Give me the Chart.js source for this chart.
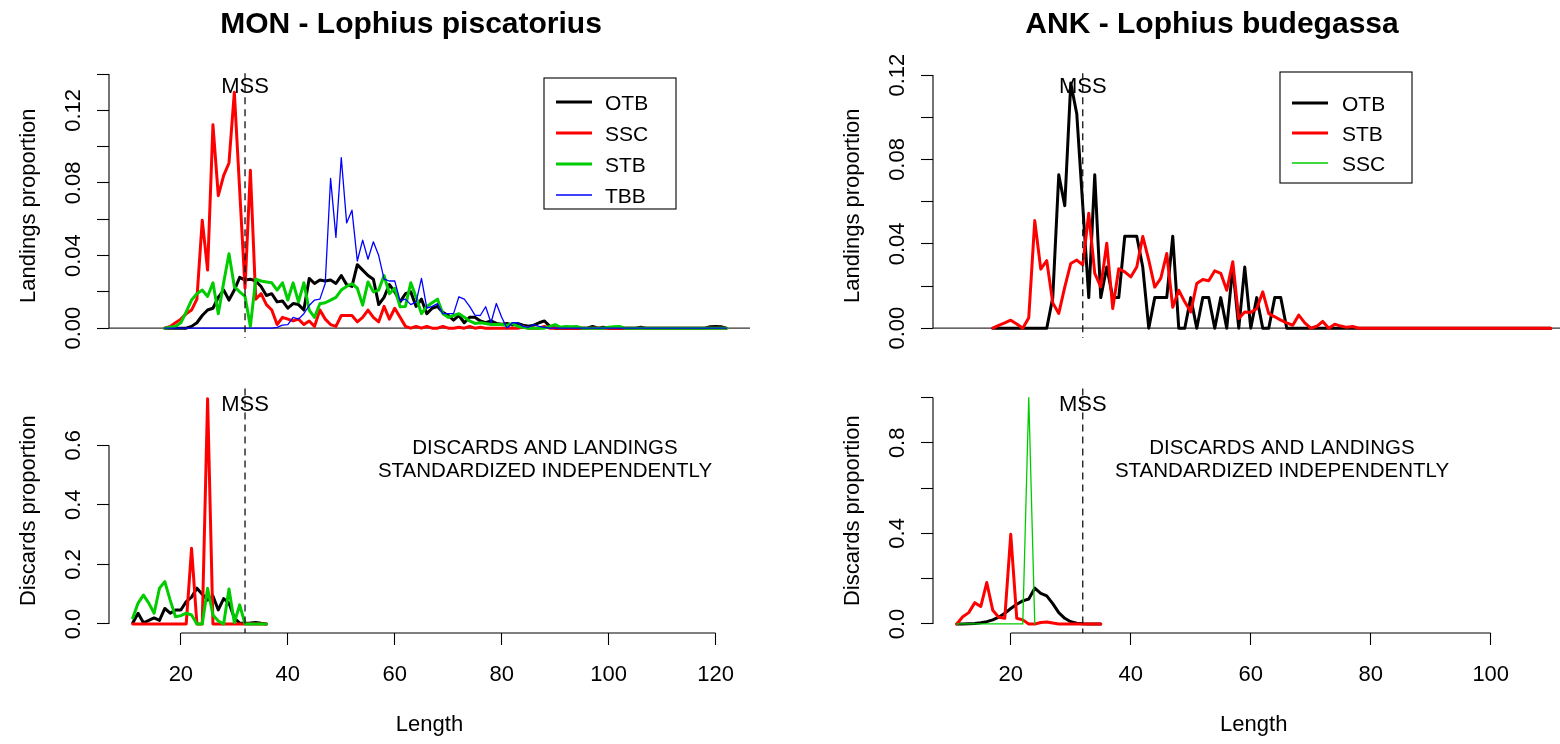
<!DOCTYPE html>
<html><head><meta charset="utf-8">
<script src="https://cdn.jsdelivr.net/npm/chart.js@4.4.1/dist/chart.umd.min.js"></script>
<style>
html,body{margin:0;padding:0;background:#fff;overflow:hidden;}
#wrap{position:relative;width:1560px;height:744px;overflow:hidden;background:#fff;}
#wrap canvas{position:absolute;left:0;top:0;width:1600px;height:744px;}
</style></head><body>
<div id="wrap">
<canvas id="cTL" width="1600" height="744"></canvas>
<canvas id="cTR" width="1600" height="744"></canvas>
<canvas id="cBL" width="1600" height="744"></canvas>
<canvas id="cBR" width="1600" height="744"></canvas>
</div>
<script>
// ---------------- DATA ----------------
const monLandLen = [17,18,19,20,21,22,23,24,25,26,27,28,29,30,31,32,33,34,35,36,37,38,39,40,41,42,43,44,45,46,47,48,49,50,51,52,53,54,55,56,57,58,59,60,61,62,63,64,65,66,67,68,69,70,71,72,73,74,75,76,77,78,79,80,81,82,83,84,85,86,87,88,89,90,91,92,93,94,95,96,97,98,99,100,101,102,103,104,105,106,107,108,109,110,111,112,113,114,115,116,117,118,119,120,121,122];
const monLandOTB = [0,0,0,0,0, 0.001,0.003,0.007,0.010,0.011, 0.017,0.021,0.0155,0.021,0.028, 0.0265,0.027,0.026,0.023,0.018, 0.019,0.0145,0.015,0.011,0.0136, 0.013,0.010,0.0274,0.0246,0.0265, 0.026,0.0265,0.0246,0.029,0.024, 0.023,0.035,0.032,0.029,0.027, 0.013,0.017,0.024,0.020,0.0145, 0.019,0.020,0.012,0.016,0.008, 0.011,0.012,0.0087,0.007,0.0044, 0.007,0.003,0.006,0.006,0.004, 0.003,0.004,0.0026,0.0022,0.0026, 0.0017,0.0026,0.0017,0.0011,0.0017, 0.003,0.004,0.001,0,0, 0,0,0,0,0, 0.001,0,0.0005,0,0, 0,0,0,0,0.0005, 0,0,0,0,0, 0,0,0,0,0, 0,0,0.0008,0.001,0.0008, 0];
const monLandSSC = [0,0.001,0.003,0.005,0.008, 0.010,0.016,0.0595,0.032,0.112, 0.073,0.084,0.091,0.130,0.076, 0.022,0.087,0.016,0.019,0.013, 0.010,0.002,0.006,0.005,0.004, 0.005,0.002,0.004,0.001,0.010, 0.005,0.002,0.001,0.007,0.007, 0.007,0.0035,0.006,0.010,0.006, 0.0035,0.012,0.005,0.011,0.006, 0.001,0,0.001,0,0.001, 0,0,0.001,0,0, 0.0005,0,0.001,0,0.0005, 0,0,0,0,0, 0,0,0.0008,0,0, 0,0.001,0,0,0, 0,0,0,0,0, 0,0,0,0,0, 0,0,0,0,0, 0,0,0,0,0, 0,0,0,0,0, 0,0,0,0,0, 0];
const monLandSTB = [0,0.0005,0.001,0.003,0.009, 0.0155,0.019,0.021,0.0175,0.025, 0.008,0.025,0.041,0.023,0.020, 0.0175,0.001,0.027,0.026,0.0255, 0.025,0.021,0.025,0.0155,0.025, 0.0145,0.025,0.010,0.006,0.0135, 0.014,0.0155,0.017,0.021,0.023, 0.0245,0.022,0.0127,0.0255,0.020, 0.021,0.029,0.019,0.022,0.0118, 0.012,0.025,0.017,0.008,0.012, 0.014,0.016,0.008,0.006,0.007, 0.008,0.006,0.004,0.0026,0.003, 0.0026,0.002,0.002,0.002,0.0015, 0.0026,0.001,0.0005,0,0, 0,0,0.001,0.002,0.0005, 0.001,0.0008,0.001,0,0, 0,0,0,0.0005,0.0008, 0.001,0,0,0,0, 0,0,0,0,0, 0,0,0,0,0, 0,0,0,0,0, 0];
const monLandTBB = [0,0,0,0,0, 0,0,0,0,0, 0,0,0,0,0, 0,0,0,0,0, 0,0.0005,0.0017,0.002,0.006, 0.005,0.008,0.0125,0.0155,0.016, 0.0246,0.0825,0.050,0.094,0.058, 0.065,0.037,0.0485,0.038,0.0476, 0.040,0.027,0.026,0.026,0.015, 0.016,0.013,0.0145,0.0274,0.011, 0.012,0.0135,0.008,0.008,0.008, 0.0173,0.016,0.012,0.0072,0.007, 0.0118,0.003,0.0136,0.006,0, 0.003,0.003,0.001,0.0005,0.002, 0.001,0.0005,0,0,0, 0,0,0,0,0, 0,0,0,0,0, 0,0,0,0,0, 0,0,0,0,0, 0,0,0,0,0, 0,0,0,0,0, 0];

const ankLandLen = [17,18,19,20,21,22,23,24,25,26,27,28,29,30,31,32,33,34,35,36,37,38,39,40,41,42,43,44,45,46,47,48,49,50,51,52,53,54,55,56,57,58,59,60,61,62,63,64,65,66,67,68,69,70,71,72,73,74,75,76,77,78,79,80,81,82,83,84,85,86,87,88,89,90,91,92,93,94,95,96,97,98,99,100,101,102,103,104,105,106,107,108,109,110];
const ankLandOTB = [0,0,0,0,0, 0,0,0,0,0, 0.0145,0.0727,0.0581,0.1162,0.1017, 0.0581,0.0145,0.0727,0.0145,0.029, 0.0145,0.0145,0.0436,0.0436,0.0436, 0.029,0,0.0145,0.0145,0.0145, 0.0436,0,0,0.0145,0, 0.0145,0.0145,0,0.0145,0, 0.029,0,0.029,0,0.0145, 0,0,0.0145,0.0145,0, 0,0,0,0,0, 0,0,0,0,0, 0,0,0,0,0, 0,0,0,0,0, 0,0,0,0,0, 0,0,0,0,0, 0,0,0,0,0, 0,0,0,0,0, 0,0,0,0];
const ankLandSTB = [0,0.0013,0.0025,0.0038,0.002, 0,0.005,0.051,0.028,0.032, 0.012,0.007,0.0195,0.0307,0.0323, 0.030,0.0545,0.026,0.0196,0.0403, 0.0093,0.0282,0.0267,0.0243,0.029, 0.0435,0.0323,0.0195,0.0236,0.0354, 0.0099,0.018,0.0125,0.0077,0.0212, 0.0231,0.0225,0.0272,0.026,0.018, 0.0315,0.0046,0.0077,0.0074,0.0093, 0.0172,0.0069,0.0054,0.0038,0.0025, 0.0014,0.0062,0.0025,0,0.0009, 0.0032,0,0.0019,0.001,0.0004, 0.0008,0,0,0,0, 0,0,0,0,0, 0,0,0,0,0, 0,0,0,0,0, 0,0,0,0,0, 0,0,0,0,0, 0,0,0,0];

const monDiscLen = [11,12,13,14,15,16,17,18,19,20,21,22,23,24,25,26,27,28,29,30,31,32,33,34,35,36];
const monDiscOTB = [0.003,0.036,0.004,0.012,0.020,0.012,0.052,0.036,0.047,0.047,0.075,0.09,0.12,0.10,0.08,0.094,0.047,0.085,0.07,0.02,0.003,0.002,0.003,0.005,0.002,0];
const monDiscSSC = [0,0,0,0,0,0,0,0,0,0,0,0.254,0,0,0.756,0,0,0,0,0,0,0,0,0,0,0];
const monDiscSTB = [0.02,0.07,0.097,0.07,0.036,0.12,0.142,0.08,0.024,0.028,0.036,0.03,0,0,0.12,0.03,0.01,0,0.117,0.005,0.064,0,0,0,0,0];

const ankDiscLen = [11,12,13,14,15,16,17,18,19,20,21,22,23,24,25,26,27,28,29,30,31,32,33,34,35];
const ankDiscOTB = [0,0,0.001,0.002,0.005,0.01,0.018,0.03,0.047,0.068,0.087,0.102,0.11,0.158,0.135,0.124,0.09,0.05,0.025,0.01,0.003,0.001,0,0,0];
const ankDiscSTB = [0,0.032,0.05,0.094,0.077,0.183,0.06,0.03,0.025,0.396,0.025,0.018,0,0,0.006,0.009,0.004,0,0,0,0,0,0,0,0];
const ankDiscSSCLen = [11,12,13,14,15,16,17,18,19,20,21,22,23,24];
const ankDiscSSC = [0,0,0,0,0,0,0,0,0,0,0,0,1.0,0];

const mss = 32;
const monGears = ['OTB','SSC','STB','TBB'];
const ankGears = ['OTB','STB','SSC'];

const xTicksMon = [20,40,60,80,100,120];
const xLabelsMon = ['20','40','60','80','100','120'];
const xTicksAnk = [20,40,60,80,100];
const xLabelsAnk = ['20','40','60','80','100'];
const yTicksTL = [0,0.02,0.04,0.06,0.08,0.10,0.12,0.14];
const yLabelsTL = ['0.00','','0.04','','0.08','','0.12',''];
const yTicksTR = [0,0.02,0.04,0.06,0.08,0.10,0.12];
const yLabelsTR = ['0.00','','0.04','','0.08','','0.12'];
const yTicksBL = [0,0.2,0.4,0.6];
const yLabelsBL = ['0.0','0.2','0.4','0.6'];
const yTicksBR = [0,0.2,0.4,0.6,0.8,1.0];
const yLabelsBR = ['0.0','','0.4','','0.8',''];

// ---------------- STYLE ----------------
const FONT = '"Liberation Sans", Arial, Helvetica, sans-serif';
Chart.defaults.font.family = FONT;
Chart.defaults.color = '#000';
const COL = {OTB:'#000000', SSC:'#ff0000', STB:'#00cd00', TBB:'#0000ff'};
const COLANK = {OTB:'#000000', STB:'#ff0000', SSC:'#00cd00'};
const THICK = 3, THIN = 1.3;

function pts(len, vals){ return len.map((L,i)=>({x:L, y:vals[i]})); }
function ds(label, len, vals, color, w, order){
  return {label, data: pts(len, vals), borderColor: color, backgroundColor: color, borderWidth: w,
          pointRadius: 0, tension: 0, fill: false, order, borderJoinStyle:'round', borderCapStyle:'round'};
}

function decoPlugin(d){
  return {
    id: 'rdeco' + d.key,
    beforeDatasetsDraw(chart){
      const {ctx, chartArea:a, scales:{y}} = chart;
      if (d.hline0){
        const py = y.getPixelForValue(0);
        ctx.save(); ctx.strokeStyle = '#333'; ctx.lineWidth = 1.2;
        ctx.beginPath(); ctx.moveTo(a.left, py); ctx.lineTo(a.right, py); ctx.stroke(); ctx.restore();
      }
    },
    afterDraw(chart){
      const {ctx, chartArea:a, scales:{x, y}} = chart;
      ctx.save();
      ctx.strokeStyle = '#000'; ctx.lineWidth = 1.1;
      const yt = y.ticks;
      ctx.beginPath();
      ctx.moveTo(a.left, y.getPixelForValue(yt[0].value));
      ctx.lineTo(a.left, y.getPixelForValue(yt[yt.length-1].value));
      ctx.stroke();
      if (d.xAxis){
        const xt = x.ticks;
        ctx.beginPath();
        ctx.moveTo(x.getPixelForValue(xt[0].value), a.bottom);
        ctx.lineTo(x.getPixelForValue(xt[xt.length-1].value), a.bottom);
        ctx.stroke();
      }
      // MSS label + dashed line
      ctx.fillStyle = '#000';
      ctx.font = '22px ' + FONT; ctx.textAlign = 'center'; ctx.textBaseline = 'alphabetic';
      const mx = x.getPixelForValue(mss);
      ctx.fillText('MSS', mx, d.mssBase);
      ctx.setLineDash([7,5]); ctx.lineWidth = 1.3; ctx.strokeStyle = '#111';
      ctx.beginPath(); ctx.moveTo(mx, a.top); ctx.lineTo(mx, a.bottom); ctx.stroke();
      ctx.setLineDash([]);
      // main title
      if (d.title){
        ctx.font = 'bold 30px ' + FONT; ctx.textAlign = 'center';
        ctx.fillText(d.title.text, d.title.x, d.title.y);
      }
      // annotation
      if (d.note){
        ctx.font = '20.5px ' + FONT; ctx.textAlign = 'center';
        d.note.lines.forEach((t,i)=>ctx.fillText(t, d.note.x, d.note.y[i]));
      }
      // legend
      if (d.legend){
        const L = d.legend;
        ctx.strokeStyle = '#000'; ctx.lineWidth = 1.1;
        ctx.strokeRect(L.x0, L.y0, L.x1 - L.x0, L.y1 - L.y0);
        ctx.font = '21px ' + FONT; ctx.textAlign = 'left';
        L.items.forEach((it,i)=>{
          const ry = L.rows[i];
          ctx.strokeStyle = it.color; ctx.lineWidth = it.w; ctx.lineCap = 'butt';
          ctx.beginPath(); ctx.moveTo(L.lx0, ry); ctx.lineTo(L.lx1, ry); ctx.stroke();
          ctx.fillStyle = '#000';
          ctx.fillText(it.label, L.tx, ry + 7.5);
        });
      }
      ctx.restore();
    }
  };
}

function makeChart(id, c){
  const W = 1600, H = 744, yW = 100, xH = 111;
  const a = c.area;
  return new Chart(document.getElementById(id), {
    type: 'line',
    data: {datasets: c.datasets},
    options: {
      responsive: false, animation: false, devicePixelRatio: 1, events: [],
      layout: {padding: {left: a.left - yW, right: W - a.right, top: a.top,
                         bottom: c.showX ? H - a.bottom - xH : H - a.bottom}},
      plugins: {legend: {display: false}, tooltip: {enabled: false}, title: {display: false}},
      scales: {
        x: {type: 'linear', min: c.xMin, max: c.xMax, display: c.showX,
            afterBuildTicks: s => { s.ticks = c.xTicks.map(v => ({value: v})); },
            afterFit: s => { s.height = c.showX ? xH : 0; },
            ticks: {autoSkip: false, minRotation: 0, maxRotation: 0, padding: 16.8,
                    color: '#000', font: {size: 22}, callback: (v, i) => c.xLabels[i]},
            grid: {display: true, drawOnChartArea: false, drawTicks: true, tickLength: 12,
                   tickColor: '#000', tickWidth: 1.1},
            border: {display: false},
            title: {display: true, text: 'Length', color: '#000', font: {size: 22},
                    padding: {top: 0, bottom: 5.8}}},
        y: {type: 'linear', min: c.yMin, max: c.yMax,
            afterBuildTicks: s => { s.ticks = c.yTicks.map(v => ({value: v})); },
            afterFit: s => { s.width = yW; },
            ticks: {autoSkip: false, minRotation: 90, maxRotation: 90, crossAlign: 'center',
                    padding: c.yPad, color: '#000', font: {size: 22},
                    callback: (v, i) => c.yLabels[i]},
            grid: {display: true, drawOnChartArea: false, drawTicks: true, tickLength: 12,
                   tickColor: '#000', tickWidth: 1.1},
            border: {display: false},
            title: {display: true, text: c.yTitle, color: '#000', font: {size: 22},
                    padding: {top: 6.8, bottom: 0}}}
      }
    },
    plugins: [decoPlugin(c.deco)]
  });
}

// ---------------- CHARTS ----------------
makeChart('cTL', {
  area: {left: 109, right: 750, top: 73.3, bottom: 338},
  xMin: 6.56, xMax: 126.44, yMin: -0.0054, yMax: 0.1404, showX: false,
  xTicks: xTicksMon, xLabels: xLabelsMon, yTicks: yTicksTL, yLabels: yLabelsTL, yPad: 1.6,
  yTitle: 'Landings proportion',
  datasets: [
    ds(monGears[0], monLandLen, monLandOTB, COL.OTB, THICK, 4),
    ds(monGears[1], monLandLen, monLandSSC, COL.SSC, THICK, 3),
    ds(monGears[2], monLandLen, monLandSTB, COL.STB, THICK, 2),
    ds(monGears[3], monLandLen, monLandTBB, COL.TBB, THIN, 1)
  ],
  deco: {key: 'TL', hline0: true, xAxis: false, mssBase: 93,
    title: {text: 'MON - Lophius piscatorius', x: 411, y: 33},
    legend: {x0: 544, y0: 78, x1: 676, y1: 209, lx0: 556, lx1: 592, tx: 605,
      rows: [102, 133, 164, 195],
      items: [{label: monGears[0], color: COL.OTB, w: THICK}, {label: monGears[1], color: COL.SSC, w: THICK},
              {label: monGears[2], color: COL.STB, w: THICK}, {label: monGears[3], color: COL.TBB, w: THIN}]}}
});

makeChart('cTR', {
  area: {left: 933, right: 1574.5, top: 73.3, bottom: 338},
  xMin: 7.04, xMax: 113.96, yMin: -0.00465, yMax: 0.12085, showX: false,
  xTicks: xTicksAnk, xLabels: xLabelsAnk, yTicks: yTicksTR, yLabels: yLabelsTR, yPad: 1.6,
  yTitle: 'Landings proportion',
  datasets: [
    ds(ankGears[0], ankLandLen, ankLandOTB, COLANK.OTB, THICK, 3),
    ds(ankGears[1], ankLandLen, ankLandSTB, COLANK.STB, THICK, 2)
  ],
  deco: {key: 'TR', hline0: true, xAxis: false, mssBase: 93,
    title: {text: 'ANK - Lophius budegassa', x: 1212, y: 33},
    legend: {x0: 1280, y0: 72, x1: 1412, y1: 183, lx0: 1292, lx1: 1328, tx: 1342,
      rows: [103, 133, 163],
      items: [{label: ankGears[0], color: COLANK.OTB, w: THICK}, {label: ankGears[1], color: COLANK.STB, w: THICK},
              {label: ankGears[2], color: COLANK.SSC, w: THIN}]}}
});

makeChart('cBL', {
  area: {left: 109, right: 750, top: 388.5, bottom: 633},
  xMin: 6.56, xMax: 126.44, yMin: -0.0304, yMax: 0.7904, showX: true,
  xTicks: xTicksMon, xLabels: xLabelsMon, yTicks: yTicksBL, yLabels: yLabelsBL, yPad: 7.7,
  yTitle: 'Discards proportion',
  datasets: [
    ds(monGears[0], monDiscLen, monDiscOTB, COL.OTB, THICK, 3),
    ds(monGears[1], monDiscLen, monDiscSSC, COL.SSC, THICK, 2),
    ds(monGears[2], monDiscLen, monDiscSTB, COL.STB, THICK, 1)
  ],
  deco: {key: 'BL', hline0: false, xAxis: true, mssBase: 411,
    note: {x: 545, y: [454, 477], lines: ['DISCARDS AND LANDINGS', 'STANDARDIZED INDEPENDENTLY']}}
});

makeChart('cBR', {
  area: {left: 933, right: 1574.5, top: 388.5, bottom: 633},
  xMin: 7.04, xMax: 113.96, yMin: -0.04, yMax: 1.04, showX: true,
  xTicks: xTicksAnk, xLabels: xLabelsAnk, yTicks: yTicksBR, yLabels: yLabelsBR, yPad: 7.7,
  yTitle: 'Discards proportion',
  datasets: [
    ds(ankGears[0], ankDiscLen, ankDiscOTB, COLANK.OTB, THICK, 3),
    ds(ankGears[1], ankDiscLen, ankDiscSTB, COLANK.STB, THICK, 2),
    ds(ankGears[2], ankDiscSSCLen, ankDiscSSC, COLANK.SSC, THIN, 1)
  ],
  deco: {key: 'BR', hline0: false, xAxis: true, mssBase: 411,
    note: {x: 1282, y: [454, 477], lines: ['DISCARDS AND LANDINGS', 'STANDARDIZED INDEPENDENTLY']}}
});
</script>
</body></html>
